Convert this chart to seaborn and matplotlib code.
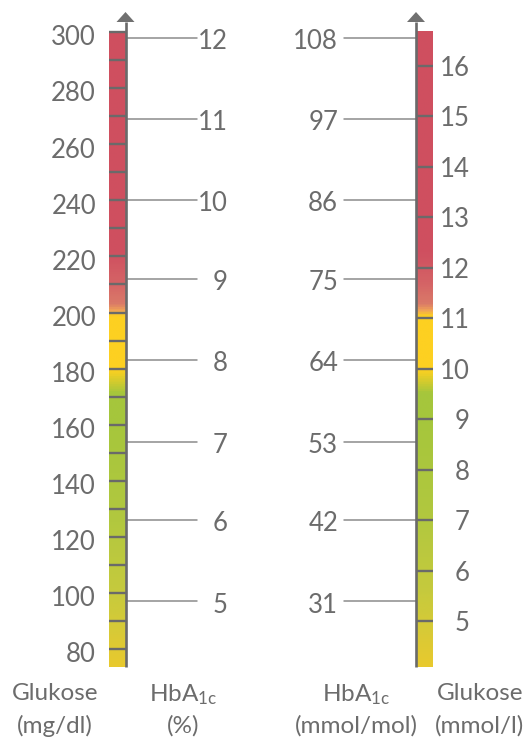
import numpy as np
import matplotlib
matplotlib.use("Agg")
import matplotlib.pyplot as plt
from matplotlib.colors import LinearSegmentedColormap
from matplotlib.patches import Polygon
import seaborn as sns
import pandas as pd

# ---------------- data ----------------
glucose_mgdl_labels = [80, 100, 120, 140, 160, 180, 200, 220, 240, 260, 280, 300]
glucose_mgdl_minor = list(range(80, 301, 10))
hba1c_pct = [5, 6, 7, 8, 9, 10, 11, 12]
hba1c_as_mgdl = [97, 126, 154, 183, 212, 240, 269, 298]
hba1c_mmolmol = [31, 42, 53, 64, 75, 86, 97, 108]
glucose_mmoll = [5, 6, 7, 8, 9, 10, 11, 12, 13, 14, 15, 16]
mgdl_per_mmol = 18.0
bar_range = (73.5, 300)

# colour stops along the glucose scale (mg/dl)
stop_vals = [73.5, 85, 100, 125, 160, 171, 178, 180, 198.5, 200.5, 203, 210, 221, 300]
stop_cols = ["#e8c92e", "#d9ca36", "#c6ca3d", "#b2c83f", "#a6c63c", "#a5c63c",
             "#f2cf24", "#fdd021", "#fdd021", "#f0a456", "#da7a68", "#d56466",
             "#cf5060", "#cf4f5f"]

# ---------------- style ----------------
sns.set_theme(style="white")
plt.rcParams["font.family"] = ["Lato", "DejaVu Sans"]
plt.rcParams["mathtext.fontset"] = "custom"
plt.rcParams["mathtext.rm"] = "Lato"
plt.rcParams["mathtext.it"] = "Lato"
TXT = "#6c6c6c"
TICK = "#6a6a6a"
LINE = "#8c8c8c"
WT = "normal"

W, H = 530, 738
fig = plt.figure(figsize=(W / 100, H / 100), dpi=100)
ax = fig.add_axes([0, 0, 1, 1])
px = 2.805  # pixels per mg/dl
top_val = 300 + 32 / px
bot_val = 300 - (H - 32) / px
ax.set_xlim(0, W)
ax.set_ylim(bot_val, top_val)
ax.axis("off")

lo, hi = bar_range
cmap = LinearSegmentedColormap.from_list(
    "gl", [((v - lo) / (hi - lo), c) for v, c in zip(stop_vals, stop_cols)])
grad = np.linspace(lo, hi, 800).reshape(-1, 1)


def scale(axis_x, bar_x0, bar_x1, tick_vals):
    ax.imshow(grad, extent=[bar_x0, bar_x1, lo, hi], origin="lower",
              aspect="auto", cmap=cmap, vmin=lo, vmax=hi, zorder=1,
              interpolation="bilinear")
    ax.hlines(tick_vals, bar_x0, bar_x1, color=TICK, lw=1.7, zorder=2)
    arrow_base = hi + 10 / px
    arrow_tip = hi + 20 / px
    ax.plot([axis_x, axis_x], [lo, arrow_base], color=TICK, lw=1.9,
            zorder=3, solid_capstyle="butt")
    ax.add_patch(Polygon([[axis_x - 9, arrow_base], [axis_x + 9, arrow_base],
                          [axis_x, arrow_tip]], closed=True, color="#707070",
                         zorder=3, lw=0))


# left scale
scale(125.5, 109, 125.5, glucose_mgdl_minor)
# right scale
scale(416, 416, 433, [v * mgdl_per_mmol for v in glucose_mmoll])

# connector lines for HbA1c
rows = []
for i, v in enumerate(hba1c_as_mgdl):
    rows += [dict(x=125.5, y=v, u=f"L{i}"), dict(x=197, y=v, u=f"L{i}")]
    rows += [dict(x=344, y=v, u=f"R{i}"), dict(x=416, y=v, u=f"R{i}")]
df = pd.DataFrame(rows)
sns.lineplot(data=df, x="x", y="y", units="u", estimator=None, sort=False,
             color=LINE, lw=1.1, ax=ax, zorder=2)
ax.set_xlim(0, W)
ax.set_ylim(bot_val, top_val)
ax.axis("off")

fs = 18.5
for v in glucose_mgdl_labels:
    ax.annotate(str(v), (96, v), xytext=(0, -2.4), textcoords="offset points",
                ha="right", va="center_baseline", fontsize=fs, color=TXT,
                fontweight=WT)
for p, v in zip(hba1c_pct, hba1c_as_mgdl):
    ax.annotate(str(p), (228, v), xytext=(0, -0.8), textcoords="offset points",
                ha="right", va="center_baseline", fontsize=fs, color=TXT,
                fontweight=WT)
for m, v in zip(hba1c_mmolmol, hba1c_as_mgdl):
    ax.annotate(str(m), (338, v), xytext=(0, -0.8), textcoords="offset points",
                ha="right", va="center_baseline", fontsize=fs, color=TXT,
                fontweight=WT)
for g in glucose_mmoll:
    ax.annotate(str(g), (470, g * mgdl_per_mmol), ha="right",
                va="center_baseline", fontsize=fs, color=TXT,
                fontweight=WT)

# bottom titles
fs2 = 17.5
def title(xc, l1, l2):
    ax.text(xc / W, 1 - 692 / H, l1, transform=ax.transAxes, ha="center",
            va="center_baseline", fontsize=fs2, color=TXT, fontweight=WT)
    ax.text(xc / W, 1 - 724 / H, l2, transform=ax.transAxes, ha="center",
            va="center_baseline", fontsize=fs2, color=TXT, fontweight=WT)

title(55, "Glukose", "(mg/dl)")
title(183, r"HbA$_{\mathregular{1c}}$", "(%)")
title(356, r"HbA$_{\mathregular{1c}}$", "(mmol/mol)")
title(480, "Glukose", "(mmol/l)")

fig.savefig("out.png", dpi=100)
